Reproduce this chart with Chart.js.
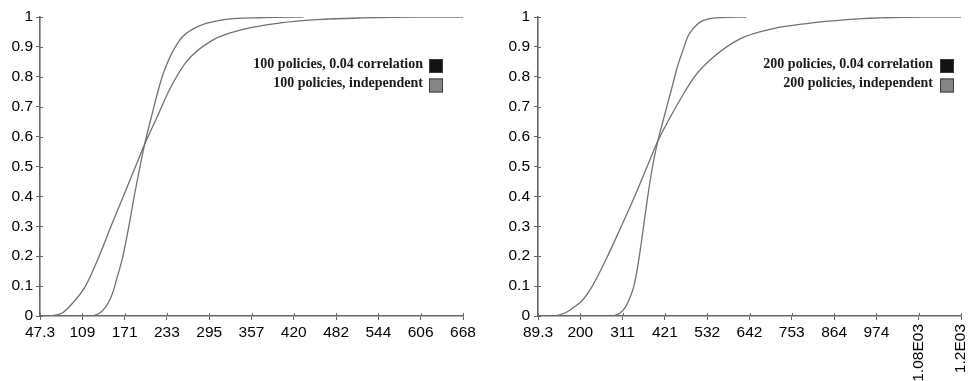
<!DOCTYPE html>
<html><head><meta charset="utf-8">
<script src="https://cdn.jsdelivr.net/npm/chart.js@4"></script>
<style>
html,body{margin:0;padding:0;background:#fff;}
#wrap{position:relative;width:968px;height:381px;overflow:hidden;background:#fff;}
canvas{position:absolute;top:0;}
</style></head><body>
<div id="wrap">
<canvas id="c1" width="484" height="381" style="left:0px"></canvas>
<canvas id="c2" width="484" height="381" style="left:484px"></canvas>
</div>
<script>
// ---- shared y axis ----
const yTickValues = [0, 0.1, 0.2, 0.3, 0.4, 0.5, 0.6, 0.7, 0.8, 0.9, 1];
const yTickLabels = ['0', '0.1', '0.2', '0.3', '0.4', '0.5', '0.6', '0.7', '0.8', '0.9', '1'];

// ---- left chart: 100 policies ----
const leftTickValues = [47.3, 109.4, 171.4, 233.5, 295.6, 357.7, 419.7, 481.8, 543.9, 605.9, 668];
const leftTickLabels = ['47.3', '109', '171', '233', '295', '357', '420', '482', '544', '606', '668'];
const leftLegend = ['100 policies, 0.04 correlation', '100 policies, independent'];
const leftCorrX = [62, 80, 94, 114, 134, 151.5, 169.5, 187.5, 201, 218, 238, 262, 300, 350, 400, 453, 520, 600, 668];
const leftCorrY = [0, 0.01, 0.04, 0.1, 0.2, 0.3, 0.4, 0.5, 0.575, 0.66, 0.76, 0.85, 0.922, 0.961, 0.98, 0.991, 0.997, 1, 1];
const leftIndX = [125, 135, 143, 150, 155, 160, 169, 177.7, 185.5, 194, 201, 210.5, 228, 252, 277, 311, 375, 434];
const leftIndY = [0, 0.01, 0.028, 0.055, 0.085, 0.125, 0.2, 0.3, 0.4, 0.5, 0.576, 0.664, 0.81, 0.922, 0.966, 0.989, 0.998, 1];

// ---- right chart: 200 policies ----
const rightTickValues = [89.3, 200.4, 311.4, 422.5, 533.6, 644.7, 755.7, 866.8, 977.9, 1088.9, 1200];
const rightTickLabels = ['89.3', '200', '311', '421', '532', '642', '753', '864', '974', '1.08E03', '1.2E03'];
const rightRotated = [9, 10];
const rightLegend = ['200 policies, 0.04 correlation', '200 policies, independent'];
const rightCorrX = [134, 160, 182, 204, 232, 272, 308, 343, 376, 404, 436, 470, 500, 550, 620, 707, 795, 900, 987, 1100, 1200];
const rightCorrY = [0, 0.01, 0.028, 0.05, 0.1, 0.2, 0.3, 0.4, 0.5, 0.585, 0.664, 0.74, 0.8, 0.866, 0.927, 0.961, 0.978, 0.991, 0.997, 1, 1];
const rightIndX = [287, 305, 318, 327, 335, 341, 349, 355.5, 366.5, 377.5, 390, 404, 420, 438, 455, 473, 482, 496, 515, 558, 637];
const rightIndY = [0, 0.01, 0.028, 0.05, 0.075, 0.1, 0.15, 0.2, 0.3, 0.4, 0.5, 0.585, 0.664, 0.75, 0.832, 0.9, 0.933, 0.96, 0.983, 0.997, 1];

const legendColors = ['#141414', '#858585'];
const lineColor = '#707070';
const axisColor = '#666666';
const textColor = '#000000';
const tickFont = {family: "'Liberation Sans', Arial, sans-serif", size: 15.5};

function pts(xs, ys) { return xs.map((x, i) => ({x: x, y: ys[i]})); }

function overlay(cfg) {
  return {
    id: 'overlay',
    afterDraw(chart) {
      const ctx = chart.ctx, ca = chart.chartArea, xs = chart.scales.x, ys = chart.scales.y;
      ctx.save();
      // tick marks crossing into plot
      ctx.strokeStyle = axisColor; ctx.lineWidth = 1;
      ctx.beginPath();
      xs.ticks.forEach(t => { const p = Math.round(xs.getPixelForValue(t.value)) + 0.5; ctx.moveTo(p, ca.bottom); ctx.lineTo(p, ca.bottom - 3); });
      ys.ticks.forEach(t => { const p = Math.round(ys.getPixelForValue(t.value)) + 0.5; ctx.moveTo(ca.left, p); ctx.lineTo(ca.left + 3, p); });
      ctx.stroke();
      // rotated tick labels
      ctx.fillStyle = textColor;
      ctx.font = tickFont.size + 'px ' + tickFont.family;
      (cfg.rotated || []).forEach(i => {
        const px = xs.getPixelForValue(cfg.tickValues[i]);
        ctx.save();
        ctx.translate(px, ca.bottom + 8);
        ctx.rotate(-Math.PI / 2);
        ctx.textAlign = 'right'; ctx.textBaseline = 'middle';
        ctx.fillText(cfg.tickLabels[i], 0, 0);
        ctx.restore();
      });
      // legend
      ctx.font = "bold 14px 'Liberation Serif', 'Times New Roman', serif";
      ctx.textAlign = 'right'; ctx.textBaseline = 'middle';
      cfg.legend.forEach((lab, i) => {
        const y = ca.top + cfg.legendTop + i * 19.5;
        const bx = ca.right - cfg.legendRight - 14;
        ctx.fillStyle = legendColors[i];
        ctx.fillRect(bx, y - 5, 14, 14);
        ctx.strokeStyle = '#3a3a3a'; ctx.lineWidth = 1;
        ctx.strokeRect(bx + 0.5, y - 4.5, 13, 13);
        ctx.fillStyle = '#1a1a1a';
        ctx.fillText(lab, bx - cfg.legendGap, y);
      });
      ctx.restore();
    }
  };
}

function makeChart(id, o) {
  return new Chart(document.getElementById(id), {
    type: 'line',
    data: {
      datasets: [
        {label: o.legend[0], data: pts(o.corrX, o.corrY)},
        {label: o.legend[1], data: pts(o.indX, o.indY)}
      ]
    },
    options: {
      responsive: false, animation: false, devicePixelRatio: 1,
      elements: {
        line: {borderColor: lineColor, borderWidth: 1.3, fill: false, cubicInterpolationMode: 'monotone'},
        point: {radius: 0, hoverRadius: 0}
      },
      layout: {padding: {left: 0, top: 17, right: o.padRight, bottom: 0}},
      plugins: {legend: {display: false}, tooltip: {enabled: false}},
      scales: {
        x: {
          type: 'linear', min: o.tickValues[0], max: o.tickValues[o.tickValues.length - 1],
          afterBuildTicks: s => { s.ticks = o.tickValues.map(v => ({value: v})); },
          afterFit: s => { s.height = 65; },
          grid: {display: true, drawOnChartArea: false, drawTicks: true, tickLength: 4, color: axisColor},
          border: {display: true, color: axisColor, width: 1.6},
          ticks: {
            autoSkip: false, maxRotation: 0, minRotation: 0, padding: 3, color: textColor, font: tickFont,
            callback: (v, i) => ((o.rotated || []).indexOf(i) >= 0 ? '' : o.tickLabels[i])
          }
        },
        y: {
          type: 'linear', min: 0, max: 1,
          afterBuildTicks: s => { s.ticks = yTickValues.map(v => ({value: v})); },
          afterFit: s => { s.width = o.yWidth; },
          grid: {display: true, drawOnChartArea: false, drawTicks: true, tickLength: 4, color: axisColor},
          border: {display: true, color: axisColor, width: 1.6},
          ticks: {padding: o.yPad, color: textColor, font: tickFont, callback: (v, i) => yTickLabels[i]}
        }
      }
    },
    plugins: [overlay({rotated: o.rotated, tickValues: o.tickValues, tickLabels: o.tickLabels,
      legend: o.legend, legendTop: 47, legendRight: o.legendRight, legendGap: o.legendGap})]
  });
}

makeChart('c1', {
  corrX: leftCorrX, corrY: leftCorrY, indX: leftIndX, indY: leftIndY,
  tickValues: leftTickValues, tickLabels: leftTickLabels, legend: leftLegend,
  padRight: 21, yWidth: 40, yPad: 3, legendRight: 20, legendGap: 6, rotated: []
});
makeChart('c2', {
  corrX: rightCorrX, corrY: rightCorrY, indX: rightIndX, indY: rightIndY,
  tickValues: rightTickValues, tickLabels: rightTickLabels, legend: rightLegend,
  padRight: 7, yWidth: 54, yPad: 4, legendRight: 7, legendGap: 7, rotated: rightRotated
});
</script>
</body></html>
